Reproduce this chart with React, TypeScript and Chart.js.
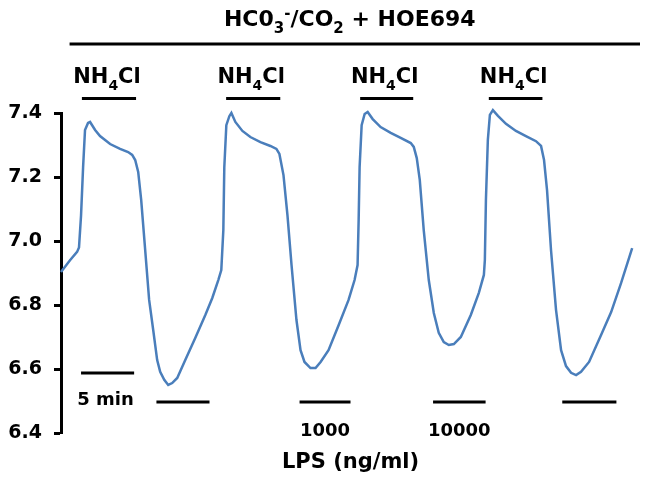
import React, { useEffect, useRef } from "react";
import { Chart, registerables } from "chart.js";

Chart.register(...registerables);

// ---- Data (time in minutes, intracellular pH) ----
const timeMin = [
  0.0, 0.84, 1.5, 1.68, 1.87, 2.06, 2.24, 2.52, 2.71, 3.18, 3.64, 4.58, 5.51, 6.26, 6.64, 6.92, 7.2, 7.48,
  7.85, 8.22, 8.6, 8.97, 9.25, 9.63, 10.0, 10.37, 10.84, 11.59, 12.52, 13.46, 14.11, 14.67, 14.95, 15.14,
  15.23, 15.42, 15.7, 15.89, 16.26, 16.92, 17.66, 18.6, 19.53, 20.09, 20.37, 20.75, 21.12, 21.5, 21.96,
  22.34, 22.71, 23.27, 23.74, 24.21, 24.95, 25.89, 26.82, 27.38, 27.66, 27.76, 27.85, 28.04, 28.32, 28.6,
  29.07, 29.81, 30.75, 31.68, 32.62, 32.9, 33.18, 33.46, 33.83, 34.3, 34.77, 35.23, 35.7, 36.17, 36.64,
  37.29, 38.22, 38.97, 39.44, 39.53, 39.63, 39.81, 40.0, 40.28, 40.75, 41.5, 42.43, 43.36, 44.3, 44.77,
  45.05, 45.33, 45.7, 46.17, 46.64, 47.1, 47.57, 48.04, 48.5, 49.25, 50.37, 51.31, 52.24, 53.27,
];
const pHValues = [
  6.903, 6.94, 6.966, 6.98, 7.08, 7.23, 7.347, 7.369, 7.372, 7.347, 7.328, 7.303, 7.288, 7.278, 7.269,
  7.253, 7.216, 7.128, 6.972, 6.816, 6.722, 6.628, 6.591, 6.566, 6.55, 6.556, 6.572, 6.628, 6.697, 6.769,
  6.822, 6.878, 6.909, 7.034, 7.23, 7.362, 7.39, 7.4, 7.372, 7.344, 7.325, 7.309, 7.297, 7.288, 7.272,
  7.206, 7.081, 6.925, 6.753, 6.659, 6.622, 6.603, 6.603, 6.622, 6.659, 6.737, 6.816, 6.878, 6.925, 7.066,
  7.231, 7.362, 7.397, 7.403, 7.381, 7.356, 7.338, 7.322, 7.306, 7.294, 7.259, 7.191, 7.034, 6.878, 6.775,
  6.713, 6.684, 6.675, 6.678, 6.7, 6.769, 6.838, 6.894, 6.94, 7.128, 7.316, 7.394, 7.409, 7.391, 7.366,
  7.344, 7.328, 7.312, 7.297, 7.253, 7.159, 6.972, 6.784, 6.659, 6.609, 6.588, 6.581, 6.591, 6.622, 6.706,
  6.778, 6.869, 6.978,
];

const yTickValues = [6.4, 6.6, 6.8, 7.0, 7.2, 7.4];
const yMin = 6.4;
const yMax = 7.4;
const xMin = 0;
const xMax = 54;

// Treatment periods (minutes)
const hoePeriod = [0.8, 54];
const hoeLabel = [
  { t: "HC0" },
  { t: "3", sub: true },
  { t: "-", sup: true },
  { t: "/CO" },
  { t: "2", sub: true },
  { t: " + HOE694" },
];
const nh4clPeriods = [
  [1.95, 7.0],
  [15.4, 20.45],
  [27.9, 32.85],
  [39.9, 44.9],
];
const nh4clLabel = [{ t: "NH" }, { t: "4", sub: true }, { t: "Cl" }];
const lpsPeriods = [
  [8.9, 13.85],
  [22.25, 27.0],
  [34.7, 39.6],
  [46.75, 51.8],
];
const lpsDoses = ["", "1000", "10000", ""];
const lpsTitle = "LPS (ng/ml)";
const lpsTitlePos = 27.0;
const scaleBar = [1.87, 6.82];
const scaleBarLabel = "5 min";

const FONT = '"DejaVu Sans", "Liberation Sans", Arial, sans-serif';
const TRACE_COLOR = "#4a7ebb";

type Part = { t: string; sub?: boolean; sup?: boolean };

function drawRich(ctx: CanvasRenderingContext2D, parts: Part[], cx: number, baseline: number, size: number) {
  const small = Math.round(size * 0.68);
  let total = 0;
  const widths = parts.map((p) => {
    ctx.font = `bold ${p.sub || p.sup ? small : size}px ${FONT}`;
    const w = ctx.measureText(p.t).width;
    total += w;
    return w;
  });
  let x = cx - total / 2;
  ctx.textAlign = "left";
  ctx.textBaseline = "alphabetic";
  parts.forEach((p, i) => {
    ctx.font = `bold ${p.sub || p.sup ? small : size}px ${FONT}`;
    const y = baseline + (p.sub ? size * 0.32 : p.sup ? -size * 0.38 : 0);
    ctx.fillText(p.t, x, y);
    x += widths[i];
  });
}

const annotationPlugin = {
  id: "figureAnnotations",
  afterDraw(chart: any) {
    const ctx: CanvasRenderingContext2D = chart.ctx;
    const xs = chart.scales.x;
    const area = chart.chartArea;
    const px = (t: number) => xs.getPixelForValue(t);
    ctx.save();
    ctx.fillStyle = "#000";
    ctx.strokeStyle = "#000";
    ctx.lineCap = "butt";

    const hline = (a: number, b: number, y: number, w: number) => {
      ctx.lineWidth = w;
      ctx.beginPath();
      ctx.moveTo(px(a), y);
      ctx.lineTo(px(b), y);
      ctx.stroke();
    };

    // Title + line
    drawRich(ctx, hoeLabel, (px(hoePeriod[0]) + px(hoePeriod[1])) / 2 - 5, area.top - 87, 22);
    hline(hoePeriod[0], hoePeriod[1], area.top - 69, 3);

    // NH4Cl
    nh4clPeriods.forEach(([a, b]) => {
      drawRich(ctx, nh4clLabel, (px(a) + px(b)) / 2 - 2, area.top - 30, 21);
      hline(a, b, area.top - 14.5, 3);
    });

    // 5 min scale bar
    hline(scaleBar[0], scaleBar[1], area.bottom - 60, 3);
    ctx.font = `bold 18px ${FONT}`;
    ctx.textAlign = "center";
    ctx.textBaseline = "alphabetic";
    ctx.fillText(scaleBarLabel, (px(scaleBar[0]) + px(scaleBar[1])) / 2 - 2, area.bottom - 28);

    // LPS
    lpsPeriods.forEach(([a, b], i) => {
      hline(a, b, area.bottom - 31, 3);
      if (lpsDoses[i]) {
        ctx.font = `bold 18px ${FONT}`;
        ctx.textAlign = "center";
        ctx.fillText(lpsDoses[i], (px(a) + px(b)) / 2, area.bottom + 3);
      }
    });
    ctx.font = `bold 21px ${FONT}`;
    ctx.textAlign = "center";
    ctx.fillText(lpsTitle, px(lpsTitlePos), area.bottom + 35);

    ctx.restore();
  },
};

export default function App() {
  const canvasRef = useRef<HTMLCanvasElement | null>(null);

  useEffect(() => {
    if (!canvasRef.current) return;
    const points = timeMin.map((t, i) => ({ x: t, y: pHValues[i] }));
    const chart = new Chart(canvasRef.current, {
      type: "line",
      data: {
        datasets: [
          {
            data: points,
            borderColor: TRACE_COLOR,
            borderWidth: 2.5,
            pointRadius: 0,
            tension: 0,
            fill: false,
            clip: false,
          },
        ],
      },
      options: {
        animation: false,
        responsive: false,
        devicePixelRatio: 1,
        layout: { padding: { top: 113, bottom: 48, left: 0, right: 10 } },
        plugins: { legend: { display: false }, tooltip: { enabled: false }, title: { display: false } },
        scales: {
          x: { type: "linear", display: false, min: xMin, max: xMax },
          y: {
            type: "linear",
            min: yMin,
            max: yMax,
            afterBuildTicks: (scale: any) => {
              scale.ticks = yTickValues.map((v) => ({ value: v }));
            },
            afterFit: (scale: any) => {
              scale.width = 61;
            },
            border: { display: true, color: "#000", width: 3 },
            grid: { drawOnChartArea: false, drawTicks: true, tickLength: 7, tickWidth: 3, tickColor: "#000" },
            ticks: {
              color: "#000",
              padding: 12,
              font: { family: FONT, weight: "bold", size: 19 },
              callback: (v: any) => Number(v).toFixed(1),
            },
          },
        },
      },
      plugins: [annotationPlugin],
    });
    return () => chart.destroy();
  }, []);

  return (
    <div style={{ position: "fixed", left: 0, top: 0, width: 650, height: 481, background: "#fff" }}>
      <canvas ref={canvasRef} width={650} height={481} style={{ display: "block" }} />
    </div>
  );
}
